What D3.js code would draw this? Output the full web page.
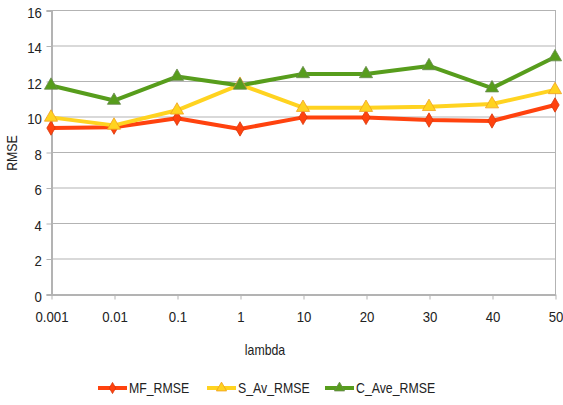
<!DOCTYPE html>
<html>
<head>
<meta charset="utf-8">
<script src="https://cdn.jsdelivr.net/npm/d3@7"></script>
<style>
  html, body { margin: 0; padding: 0; background: #fff; }
  svg text { font-family: "Liberation Sans", Arial, sans-serif; fill: #222; }
</style>
</head>
<body>
<svg id="chart" width="563" height="405"></svg>
<script>
// Lambda values on the category axis
const lambdas = ["0.001", "0.01", "0.1", "1", "10", "20", "30", "40", "50"];
// RMSE per lambda for each method
const mfRmse   = [9.35, 9.4, 9.9, 9.3, 9.95, 9.95, 9.8, 9.75, 10.65];
const sAvRmse  = [9.95, 9.5, 10.35, 11.8, 10.5, 10.5, 10.55, 10.7, 11.5];
const cAveRmse = [11.75, 10.9, 12.25, 11.75, 12.4, 12.4, 12.85, 11.6, 13.35];
const yTicks = [0, 2, 4, 6, 8, 10, 12, 14, 16];

const series = [
  { name: "MF_RMSE",    values: mfRmse,   color: "#ff420e", stroke: "#d8380c", shape: d3.symbolDiamond,  size: 60 },
  { name: "S_Av_RMSE",  values: sAvRmse,  color: "#ffd320", stroke: "#f0a020", shape: d3.symbolTriangle, size: 75 },
  { name: "C_Ave_RMSE", values: cAveRmse, color: "#579d1c", stroke: "#6a8a50", shape: d3.symbolTriangle, size: 75 }
];

const svg = d3.select("#chart");
const plotL = 51, plotR = 555, plotT = 10, plotB = 294;
const squeeze = "scale(0.88,1)"; // slightly condensed lettering

const x = d3.scalePoint().domain(lambdas).range([plotL, plotR]);
const y = d3.scaleLinear().domain([0, 16]).range([plotB, plotT]);

const grid = "#b3b3b3";

// horizontal gridlines
svg.append("g").selectAll("line").data(yTicks.filter(t => t > 0)).join("line")
  .attr("x1", plotL).attr("x2", plotR)
  .attr("y1", d => y(d) + 0.5).attr("y2", d => y(d) + 0.5)
  .attr("stroke", grid).attr("stroke-width", 1);

// right border of the plot area
svg.append("line").attr("x1", plotR + 0.5).attr("x2", plotR + 0.5)
  .attr("y1", plotT).attr("y2", plotB).attr("stroke", grid);

// y axis
const yAxis = svg.append("g").attr("transform", `translate(${plotL + 0.5},0.5)`)
  .call(d3.axisLeft(y).tickValues(yTicks).tickSize(5).tickPadding(6));
yAxis.select(".domain").attr("stroke", grid).attr("stroke-width", 2);
yAxis.selectAll(".tick line").attr("stroke", grid).attr("stroke-width", 1);
yAxis.selectAll(".tick text").attr("font-size", 15).attr("dy", "0.45em")
  .attr("transform", squeeze).style("fill", "#222");

// x axis
const xAxis = svg.append("g").attr("transform", `translate(0.5,${plotB + 0.5})`)
  .call(d3.axisBottom(x).tickSize(5).tickSizeOuter(0).tickPadding(12));
xAxis.select(".domain").attr("stroke", grid).attr("stroke-width", 2);
xAxis.selectAll(".tick line").attr("stroke", grid).attr("stroke-width", 1);
xAxis.selectAll(".tick text").attr("font-size", 15)
  .attr("transform", squeeze).style("fill", "#222");

// axis titles
svg.append("g").attr("transform", "translate(265,355)")
  .append("text").attr("transform", squeeze)
  .attr("text-anchor", "middle").attr("font-size", 14).text("lambda");
svg.append("g").attr("transform", "translate(17,153) rotate(-90)")
  .append("text").attr("transform", squeeze)
  .attr("text-anchor", "middle").attr("font-size", 14).text("RMSE");

// lines and markers
const line = d3.line().x((d, i) => x(lambdas[i])).y(d => y(d));
series.forEach(s => {
  svg.append("path").datum(s.values).attr("d", line)
    .attr("fill", "none").attr("stroke", s.color).attr("stroke-width", 4)
    .attr("stroke-linejoin", "round");
});
series.forEach(s => {
  svg.append("g").selectAll("path").data(s.values).join("path")
    .attr("transform", (d, i) => `translate(${x(lambdas[i])},${y(d)})`)
    .attr("d", d3.symbol().type(s.shape).size(s.size))
    .attr("fill", s.color).attr("stroke", s.stroke).attr("stroke-width", 0.8);
});

// legend
const legendX = [98, 207, 325];
const legend = svg.append("g");
series.forEach((s, i) => {
  const g = legend.append("g").attr("transform", `translate(${legendX[i]},388)`);
  g.append("line").attr("x1", 0).attr("x2", 29).attr("y1", 0).attr("y2", 0)
    .attr("stroke", s.color).attr("stroke-width", 4);
  g.append("path").attr("transform", "translate(14.5,0)")
    .attr("d", d3.symbol().type(s.shape).size(s.size * 0.6))
    .attr("fill", s.color).attr("stroke", s.stroke).attr("stroke-width", 0.8);
  g.append("g").attr("transform", "translate(31,5)")
    .append("text").attr("transform", squeeze).attr("font-size", 14).text(s.name);
});
</script>
</body>
</html>
